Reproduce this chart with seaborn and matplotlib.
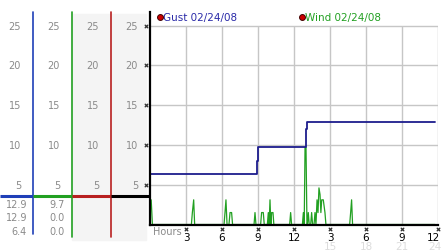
import matplotlib
matplotlib.use('Agg')
import matplotlib.pyplot as plt
import matplotlib.transforms as mtransforms
from matplotlib.patches import Rectangle
import seaborn as sns

# ---------------- data ----------------
gust_hours = [0.0, 0.03, 8.94, 9.03, 12.97, 13.1, 23.75]
gust_vals = [8.7, 6.4, 8.0, 9.7, 12.0, 12.9, 12.9]

wind_hours = [0.0, 0.1, 0.2,
              3.45, 3.53, 3.64, 3.72,
              6.17, 6.25, 6.33, 6.42, 6.58, 6.67, 6.8, 6.88,
              8.67, 8.75, 8.83,
              9.22, 9.3, 9.44, 9.52,
              9.78, 9.86, 9.93, 10.0, 10.07, 10.14, 10.25, 10.32,
              11.64, 11.72, 11.8,
              12.7, 12.78, 12.85, 12.92, 13.0, 13.08,
              13.12, 13.19, 13.27, 13.39, 13.47, 13.55, 13.67, 13.75, 13.83,
              13.92, 14.0, 14.08, 14.17, 14.24, 14.31, 14.44, 14.58, 14.66,
              16.64, 16.72, 16.8, 16.88,
              23.75]
wind_vals = [1.5, 3.1, 0,
             0, 1.5, 3.1, 0,
             0, 1.5, 3.1, 0, 0, 1.5, 1.5, 0,
             0, 1.5, 0,
             0, 1.5, 1.5, 0,
             0, 1.5, 0, 3.1, 0, 1.5, 1.5, 0,
             0, 1.5, 0,
             0, 1.5, 0, 9.7, 9.7, 0,
             0, 1.5, 0, 0, 1.5, 0, 0, 1.5, 0,
             3.1, 1.5, 4.6, 3.75, 1.5, 3.1, 3.1, 1.5, 0,
             0, 1.5, 3.1, 0,
             0]

y_ticks = [5, 10, 15, 20, 25]
hour_ticks = [3, 6, 9, 12, 15, 18, 21, 24]
hour_labels = ['3', '6', '9', '12', '3', '6', '9', '12']
hour_ticks_24 = [15, 18, 21, 24]
hour_labels_24 = ['15', '18', '21', '24']
gust_readout = ['12.9', '12.9', '6.4']
wind_readout = ['9.7', '0.0', '0.0']
cursor_level = 3.6
legend_labels = ['Gust 02/24/08', 'Wind 02/24/08']

# ---------------- style ----------------
sns.set_style('white')
plt.rcParams['font.family'] = ['DejaVu Sans']

BLUE = '#1c1c8c'
LBLUE = '#1f3fb8'
GREEN = '#22a022'
RED = '#b82020'
GRAY = '#8a8a8a'
GRID = '#c6c6c6'
FS = 7

W, H = 442, 253
fig = plt.figure(figsize=(W / 100, H / 100), dpi=100)

ov = fig.add_axes([0, 0, 1, 1], zorder=0)
ov.set_xlim(0, W)
ov.set_ylim(H, 0)
ov.axis('off')

y0px, ytop = 225.5, 13
ax = fig.add_axes([150 / W, (H - y0px) / H, 288 / W, (y0px - ytop) / H], zorder=2)
ax.patch.set_alpha(0)

bt = mtransforms.blended_transform_factory(ov.transData, ax.transData)   # x px, y value
bt2 = mtransforms.blended_transform_factory(ax.transData, ov.transData)  # x hour, y px

# left panel background
ov.add_patch(Rectangle((72, 15), 74, 226, color='#f4f4f4', zorder=0))

# column labels
for xr in [21, 60, 99, 138]:
    for v in y_ticks:
        ov.text(xr, v, str(v), transform=bt, ha='right', va='center',
                color=GRAY, fontsize=FS)

# column separators
ov.plot([33.3, 33.3], [13, 235], color=LBLUE, lw=1.2, zorder=2)
ov.plot([72.3, 72.3], [13, 238], color=GREEN, lw=1.2, zorder=2)
ov.plot([111, 111], [13, 238], color=RED, lw=1.2, zorder=2)

# cursor level line
for (xa, xb), c in zip([(0, 33.3), (33.3, 72.3), (72.3, 111), (111, 149)],
                       [LBLUE, GREEN, RED, 'black']):
    ov.plot([xa, xb], [cursor_level, cursor_level], transform=bt, color=c,
            lw=2.2, solid_capstyle='butt', zorder=3)

# readouts
for i, (g, w) in enumerate(zip(gust_readout, wind_readout)):
    yy = 205 + i * 13.3
    ov.text(27, yy, g, ha='right', va='center', color=GRAY, fontsize=FS)
    ov.text(65, yy, w, ha='right', va='center', color=GRAY, fontsize=FS)

# ---------------- main plot ----------------
ax.set_xlim(0, 24)
ax.set_ylim(0, 26.7)
ax.hlines(y_ticks, 0, 24, color=GRID, lw=1, zorder=1)
ax.vlines(hour_ticks, 0, 25, color=GRID, lw=1, zorder=1)

sns.lineplot(x=wind_hours, y=wind_vals, ax=ax, color=GREEN, lw=0.9,
             estimator=None, sort=False, zorder=3)
sns.lineplot(x=gust_hours, y=gust_vals, ax=ax, color=BLUE, lw=1.3,
             drawstyle='steps-post', estimator=None, sort=False, zorder=4)

for s in ['top', 'right']:
    ax.spines[s].set_visible(False)
for s in ['left', 'bottom']:
    ax.spines[s].set_color('black')
    ax.spines[s].set_linewidth(1.6)
    ax.spines[s].set_zorder(5)

ax.set_xticks([])
ax.set_yticks([])
ax.set_xlabel('')
ax.set_ylabel('')

# hour labels (last one kept inside the figure edge)
for h, lab in zip(hour_ticks, hour_labels):
    ha = 'right' if h == hour_ticks[-1] else 'center'
    xoff = 0.2 if h == hour_ticks[-1] else 0
    ax.text(h + xoff, 238, lab, transform=bt2, ha=ha, va='center',
            color='black', fontsize=FS + 0.5, clip_on=False)

# tick marks (small x symbols)
ov.scatter([146] * len(y_ticks), y_ticks, transform=bt, marker='x', s=6,
           color='#333333', lw=0.9, zorder=4)
ax.scatter(hour_ticks, [230] * len(hour_ticks), transform=bt2, marker='x', s=6,
           color='#333333', lw=0.9, zorder=4, clip_on=False)

# secondary 24h labels
for h, lab in zip(hour_ticks_24, hour_labels_24):
    ha = 'right' if h == hour_ticks_24[-1] else 'center'
    xoff = 0.3 if h == hour_ticks_24[-1] else 0
    ax.text(h + xoff, 247.5, lab, transform=bt2, ha=ha, va='center',
            color='#dcdcdc', fontsize=FS + 0.5, clip_on=False)

ov.text(153, 232, 'Hours', ha='left', va='center', color=GRAY, fontsize=FS)

# legend
ov.scatter([160, 302], [18, 18], s=18, color='#cc0000', edgecolor='#400000',
           lw=0.7, zorder=4)
ov.text(163, 18, legend_labels[0], ha='left', va='center', color='#2a2aa8',
        fontsize=7.5)
ov.text(305, 18, legend_labels[1], ha='left', va='center', color=GREEN,
        fontsize=7.5)

fig.savefig('out.png', dpi=100)
